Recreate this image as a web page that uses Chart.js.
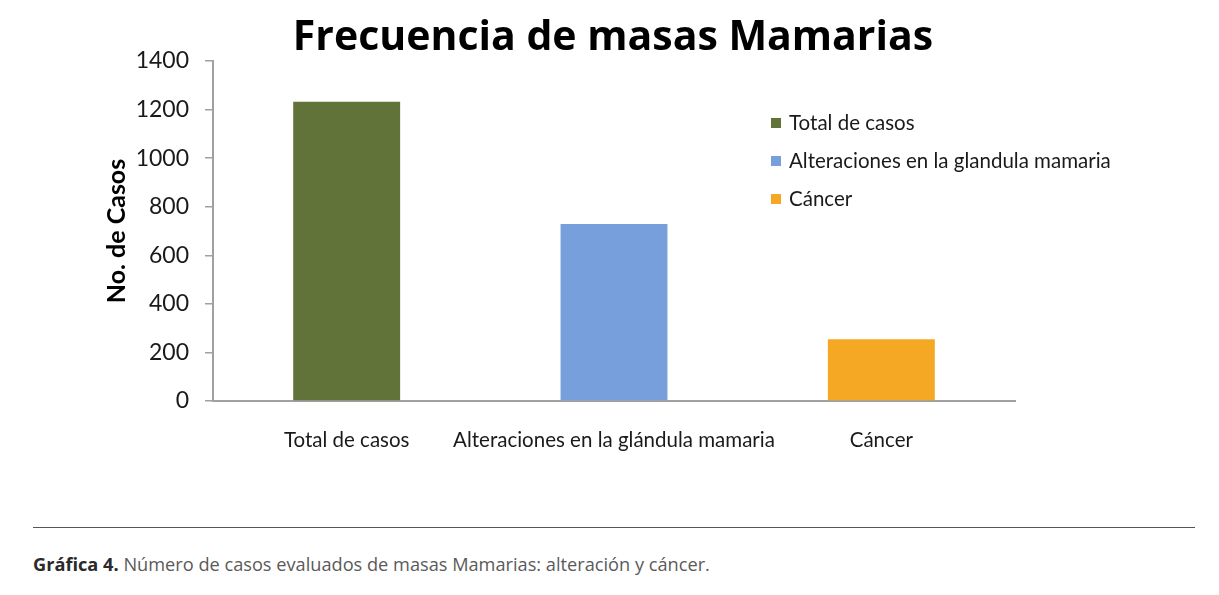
<!DOCTYPE html>
<html>
<head>
<meta charset="utf-8">
<script src="https://cdn.jsdelivr.net/npm/chart.js@4.4.0/dist/chart.umd.min.js"></script>
<style>
  body { margin: 0; background: #fff; width: 1219px; height: 595px; position: relative; overflow: hidden; }
  #wrap { position: absolute; left: 0; top: 0; width: 1219px; height: 480px; }
  #rule { position: absolute; left: 33px; top: 527px; width: 1162px; height: 0; border-top: 1px solid #555; }
  #caption { position: absolute; left: 33px; top: 552px; font-family: "Open Sans", sans-serif; font-size: 18.2px; color: #5a5a5a; white-space: nowrap; }
  #caption b { color: #2a2a2a; }
</style>
</head>
<body>
<div id="wrap"><canvas id="chart"></canvas></div>
<div id="rule"></div>
<div id="caption"><b>Gráfica 4.</b> Número de casos evaluados de masas Mamarias: alteración y cáncer.</div>
<script>
// Chart data
var chartTitle = 'Frecuencia de masas Mamarias';
var categories = ['Total de casos', 'Alteraciones en la glándula mamaria', 'Cáncer'];
var legendNames = ['Total de casos', 'Alteraciones en la glandula mamaria', 'Cáncer'];
var cases = [1232, 729, 254];
var barColors = ['#62733a', '#779fdb', '#f5a823'];
var yTicks = [0, 200, 400, 600, 800, 1000, 1200, 1400];

var fontName = 'Lato, "Open Sans", sans-serif';

// title and legend drawn by hand so they sit where the original has them
var extras = {
  id: 'extras',
  afterDraw: function (chart) {
    var ctx = chart.ctx;
    ctx.save();
    ctx.fillStyle = '#000';
    ctx.font = 'bold 41px "Open Sans", sans-serif';
    ctx.textAlign = 'center';
    ctx.textBaseline = 'alphabetic';
    ctx.fillText(chartTitle, 613, 50);

    ctx.textAlign = 'left';
    ctx.font = '20.5px ' + fontName;
    ctx.textBaseline = 'middle';
    legendNames.forEach(function (name, i) {
      var y = 123 + i * 38;
      ctx.fillStyle = barColors[i];
      ctx.fillRect(771, y - 5, 10, 10);
      ctx.fillStyle = '#1a1a1a';
      ctx.fillText(name, 789, y);
    });
    ctx.restore();
  }
};

var ctx = document.getElementById('chart').getContext('2d');
window.casesChart = new Chart(ctx, {
  type: 'bar',
  data: {
    labels: categories,
    datasets: [
      {
        label: 'No. de Casos',
        data: cases,
        backgroundColor: barColors,
        barPercentage: 0.4,
        categoryPercentage: 1
      }
    ]
  },
  options: {
    responsive: true,
    maintainAspectRatio: false,
    animation: false,
    layout: { padding: { left: 0, right: 204, top: 61, bottom: 0 } },
    plugins: {
      legend: { display: false },
      tooltip: { enabled: false },
      title: { display: false }
    },
    scales: {
      x: {
        grid: { display: false, drawTicks: false },
        border: { color: '#a0a0a0', width: 2 },
        ticks: { color: '#1a1a1a', font: { family: fontName, size: 20.5 }, padding: 27, maxRotation: 0, autoSkip: false },
        afterFit: function (scale) { scale.height = 79; }
      },
      y: {
        min: 0,
        max: 1400,
        afterBuildTicks: function (scale) {
          scale.ticks = yTicks.map(function (v) { return { value: v }; });
        },
        grid: { drawOnChartArea: false, tickLength: 8, color: '#a0a0a0', lineWidth: 1.5 },
        border: { color: '#a0a0a0', width: 2 },
        ticks: {
          color: '#1a1a1a',
          font: { family: fontName, size: 23 },
          padding: 16,
          callback: function (value) { return String(value); }
        },
        title: {
          display: true,
          text: 'No. de Casos',
          color: '#000',
          font: { family: fontName, size: 25, weight: 'bold', lineHeight: 1.2 },
          padding: { top: 102, bottom: 0 }
        },
        afterFit: function (scale) { scale.width = 213; }
      }
    }
  },
  plugins: [extras]
});
</script>
</body>
</html>
